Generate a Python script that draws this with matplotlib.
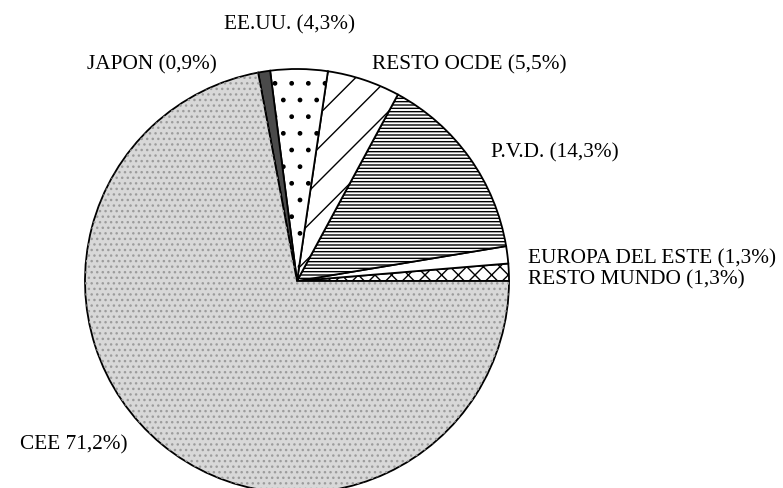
import matplotlib.pyplot as plt
from matplotlib.patches import Wedge

plt.rcParams['font.family'] = ['Liberation Serif', 'DejaVu Serif']
plt.rcParams['hatch.linewidth'] = 1.0

# values (counter-clockwise from 3 o'clock)
labels = ["RESTO MUNDO (1,3%)", "EUROPA DEL ESTE (1,3%)", "P.V.D. (14,3%)",
          "RESTO OCDE (5,5%)", "EE.UU. (4,3%)", "JAPON (0,9%)", "CEE 71,2%)"]
shares = [1.3, 1.3, 14.3, 5.5, 4.3, 0.9, 71.2]

# fill style per slice
faces = ["white", "white", "white", "white", "white", "#4a4a4a", "#d8d8d8"]
hatches = ["xx", "", "-----", "/", ".", "", ""]

# label anchor points in pixels (left edge, vertical middle), from top-left
label_px = [(528, 280), (528, 259), (491, 153), (372, 65),
            (224, 25), (87, 65), (20, 445)]

W, H = 783, 488
cx, cy, r = 297, 281, 212

fig = plt.figure(figsize=(W / 100, H / 100), dpi=100)
ax = fig.add_axes([(cx - r) / W, (H - cy - r) / H, 2 * r / W, 2 * r / H])

wedges, _ = ax.pie(shares, startangle=0, counterclock=True, radius=1,
                   wedgeprops=dict(edgecolor="black", linewidth=1.3))
for w, fc, h in zip(wedges, faces, hatches):
    w.set_facecolor(fc)
    if h:
        w.set_hatch(h)

# halftone-like stipple over the big CEE slice
cee = wedges[-1]
ax.add_patch(Wedge(cee.center, cee.r, cee.theta1, cee.theta2,
                   facecolor="none", edgecolor="#9c9c9c", hatch="...",
                   linewidth=0))

ax.set_xlim(-1, 1)
ax.set_ylim(-1, 1)
ax.set_aspect("equal")
ax.axis("off")

for txt, (px, py) in zip(labels, label_px):
    fig.text(px / W, 1 - py / H, txt, ha="left", va="center", fontsize=15.3)

fig.savefig("out.png", dpi=100, facecolor="white")
